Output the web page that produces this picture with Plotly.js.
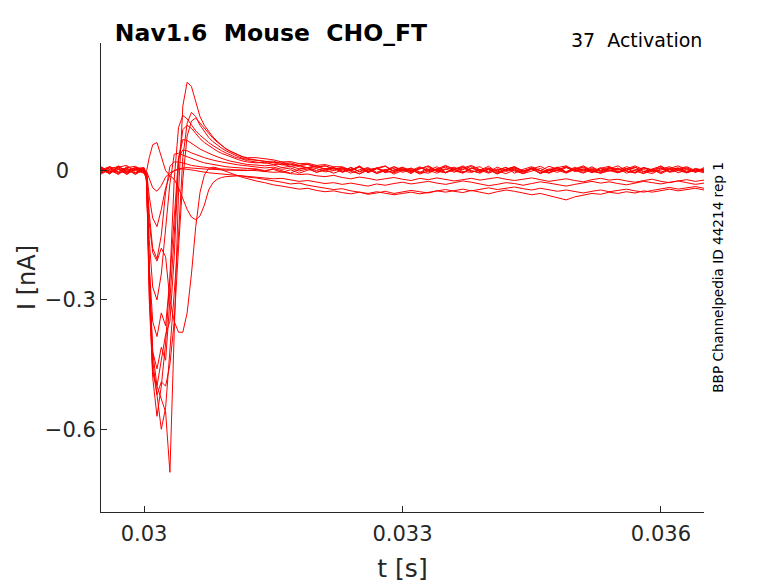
<!DOCTYPE html>
<html>
<head>
<meta charset="utf-8">
<script src="https://cdn.plot.ly/plotly-3.0.1.min.js"></script>
<style>
  html, body { margin: 0; padding: 0; background: #fff; }
  #plot { width: 778px; height: 583px; }
</style>
</head>
<body>
<div id="plot"></div>
<script>
// sample times [s]
var t = [0.0295, 0.0296, 0.0297, 0.0298, 0.0299, 0.03,
  0.03003, 0.03006, 0.0301, 0.03015, 0.0302, 0.03025, 0.0303, 0.03035, 0.0304, 0.03045,
  0.0305, 0.03055, 0.0306, 0.03065, 0.0307, 0.03075, 0.0308, 0.03085, 0.0309, 0.03095,
  0.031, 0.03105, 0.0311, 0.03115, 0.0312,
  0.0313, 0.0314, 0.0315, 0.0316, 0.0317, 0.0318, 0.0319, 0.032, 0.0321, 0.0322,
  0.0323, 0.0324, 0.0325, 0.0326, 0.0327, 0.0328, 0.0329, 0.033, 0.0331, 0.0332,
  0.0333, 0.0334, 0.0335, 0.0336, 0.0337, 0.0338, 0.0339, 0.034, 0.0341, 0.0342,
  0.0343, 0.0344, 0.0345, 0.0346, 0.0347, 0.0348, 0.0349, 0.035, 0.0351, 0.0352,
  0.0353, 0.0354, 0.0355, 0.0356, 0.0357, 0.0358, 0.0359, 0.036, 0.0361, 0.0362,
  0.0363, 0.0364, 0.0365];

// currents [nA], one array per sweep
var sweep1 = [0.006, -0.008, 0.011, -0.004, 0.008, 0.002,
  -0.02, -0.22, -0.42, -0.50, -0.53, -0.56, -0.70, -0.40, -0.05, 0.15, 0.205, 0.195, 0.16, 0.125,
  0.105, 0.09, 0.078, 0.068, 0.058, 0.05, 0.045, 0.04, 0.036, 0.032, 0.03,
  0.03, 0.027, 0.025, 0.02, 0.021, 0.016, 0.017, 0.012, 0.014, 0.009,
  0.009, 0.001, 0.008, -0.004, 0.006, 0.011, -0.002, 0.005, 0.0, 0.009,
  -0.003, 0.004, 0.012, 0.002, -0.006, 0.006, 0.001, 0.01, -0.004, 0.003,
  0.009, -0.001, 0.006, -0.007, 0.002, 0.008, -0.003, 0.004, 0.011, 0.0,
  -0.005, 0.006, 0.001, 0.009, 0.003, -0.006, 0.004, 0.01, -0.002, 0.003,
  -0.004, 0.005, 0.001];

var sweep2 = [-0.005, 0.009, 0.003, -0.009, 0.005, 0.007,
  -0.03, -0.25, -0.44, -0.52, -0.60, -0.55, -0.42, -0.30, -0.15, 0.03, 0.11, 0.135, 0.125, 0.105,
  0.09, 0.077, 0.067, 0.059, 0.052, 0.046, 0.041, 0.036, 0.032, 0.028, 0.026,
  0.024, 0.022, 0.018, 0.02, 0.014, 0.012, 0.015, 0.008, 0.011, 0.004,
  0.006, 0.0, 0.009, -0.005, 0.004, 0.01, -0.002, 0.003, -0.007, 0.006,
  0.001, 0.009, -0.004, 0.002, 0.011, 0.0, -0.006, 0.005, -0.001, 0.008,
  -0.006, 0.003, 0.009, 0.0, -0.005, 0.007, 0.011, -0.002, 0.004, -0.004,
  0.005, 0.01, -0.003, 0.001, 0.008, -0.002, -0.007, 0.004, 0.009, 0.0,
  0.005, -0.004, 0.002];

var sweep3 = [0.003, -0.007, 0.008, 0.012, -0.005, 0.0,
  -0.02, -0.28, -0.48, -0.57, -0.50, -0.40, -0.25, -0.02, 0.10, 0.128, 0.12, 0.105, 0.092, 0.082,
  0.073, 0.065, 0.058, 0.051, 0.046, 0.041, 0.036, 0.032, 0.029, 0.026, 0.023,
  0.02, 0.017, 0.019, 0.013, 0.015, 0.009, 0.007, 0.012, 0.003, 0.008,
  -0.003, 0.008, -0.002, 0.006, -0.006, 0.002, 0.009, -0.001, 0.005, -0.005,
  0.007, -0.002, 0.011, 0.003, -0.004, 0.005, 0.009, -0.005, 0.002, 0.007,
  -0.001, -0.007, 0.004, 0.01, 0.0, 0.007, -0.004, 0.002, 0.009, -0.002,
  0.007, 0.0, -0.005, 0.004, 0.011, 0.002, -0.003, 0.007, -0.002, 0.005,
  0.009, 0.0, -0.005];

var sweep4 = [-0.008, 0.002, -0.003, 0.007, 0.01, -0.003,
  -0.02, -0.24, -0.46, -0.52, -0.49, -0.50, -0.45, -0.35, -0.18, -0.02, 0.08, 0.115, 0.122, 0.11,
  0.097, 0.085, 0.075, 0.066, 0.058, 0.051, 0.045, 0.04, 0.035, 0.031, 0.028,
  0.024, 0.021, 0.022, 0.016, 0.018, 0.012, 0.014, 0.008, 0.011, 0.004,
  0.007, 0.0, 0.011, -0.003, 0.005, -0.002, 0.009, 0.002, -0.005, 0.004,
  0.01, -0.001, 0.004, -0.004, 0.006, 0.012, 0.002, -0.003, 0.008, 0.0,
  0.004, -0.006, 0.007, -0.001, 0.01, 0.003, -0.004, 0.005, 0.0, 0.009,
  -0.003, 0.004, 0.011, 0.0, -0.006, 0.006, 0.002, -0.004, 0.005, 0.011,
  0.002, -0.003, 0.007];

var sweep5 = [0.009, -0.003, 0.005, -0.008, 0.003, 0.006,
  -0.02, -0.30, -0.47, -0.50, -0.44, -0.38, -0.35, -0.20, 0.02, 0.095, 0.105, 0.098, 0.086, 0.074,
  0.065, 0.058, 0.051, 0.045, 0.04, 0.036, 0.032, 0.028, 0.025, 0.022, 0.02,
  0.018, 0.019, 0.014, 0.015, 0.01, 0.012, 0.006, 0.009, 0.003, 0.006,
  -0.004, 0.003, 0.009, -0.002, 0.006, -0.005, 0.002, 0.008, -0.003, 0.004,
  0.011, 0.0, -0.005, 0.006, 0.002, 0.01, -0.002, 0.004, -0.006, 0.003,
  0.008, -0.001, 0.005, -0.006, 0.004, 0.0, 0.01, 0.002, -0.004, 0.006,
  0.0, 0.008, 0.002, 0.005, -0.005, 0.007, 0.0, 0.011, -0.002, 0.003,
  0.007, -0.003, 0.004];

var sweep6 = [-0.002, 0.008, -0.006, 0.003, -0.009, 0.004,
  -0.02, -0.26, -0.42, -0.46, -0.41, -0.44, -0.30, -0.15, 0.03, 0.072, 0.07, 0.063, 0.056, 0.05,
  0.045, 0.04, 0.036, 0.032, 0.028, 0.025, 0.022, 0.02, 0.018, 0.016, 0.014,
  0.013, 0.011, 0.013, 0.007, 0.01, 0.004, 0.007, 0.0, 0.005, 0.001,
  0.003, -0.006, 0.002, 0.007, -0.004, 0.003, -0.008, 0.0, 0.006, -0.003,
  -0.006, 0.003, 0.008, -0.001, -0.005, 0.006, -0.002, 0.002, -0.008, 0.003,
  0.009, -0.002, 0.005, -0.006, 0.001, -0.004, 0.007, 0.0, -0.006, 0.003,
  -0.001, 0.006, -0.005, 0.001, 0.008, -0.003, 0.003, -0.007, 0.002, 0.006,
  -0.003, 0.004, -0.001];

var sweep7 = [0.005, 0.0, -0.008, 0.009, 0.002, -0.005,
  -0.02, -0.22, -0.35, -0.385, -0.33, -0.36, -0.25, -0.10, 0.03, 0.048, 0.046, 0.041, 0.037, 0.033,
  0.03, 0.027, 0.024, 0.022, 0.02, 0.018, 0.016, 0.014, 0.013, 0.012, 0.011,
  0.009, 0.006, 0.008, 0.003, 0.006, -0.001, 0.004, -0.004, 0.002, -0.006,
  0.001, 0.006, -0.003, 0.003, -0.007, 0.0, 0.005, -0.004, 0.002, -0.008,
  -0.001, 0.004, -0.005, 0.002, 0.007, -0.003, 0.001, -0.006, 0.004, -0.002,
  0.003, -0.007, -0.001, 0.005, -0.004, 0.001, -0.006, 0.003, 0.007, -0.002,
  -0.006, 0.002, -0.003, 0.005, -0.001, -0.007, 0.002, 0.006, -0.004, 0.0,
  -0.005, 0.003, -0.002];

var sweep8 = [0.003, -0.006, 0.009, 0.0, -0.005, 0.006,
  -0.01, -0.12, -0.19, -0.21, -0.18, -0.2, -0.30, -0.35, -0.375, -0.375, -0.33, -0.24, -0.13, -0.05,
  -0.01, 0.005, 0.008, 0.006, 0.002, -0.002, -0.006, -0.01, -0.013, -0.016, -0.019,
  -0.024, -0.028, -0.033, -0.036, -0.04, -0.043, -0.041, -0.046, -0.049, -0.047,
  -0.051, -0.054, -0.05, -0.055, -0.052, -0.048, -0.053, -0.05, -0.046, -0.049,
  -0.052, -0.047, -0.044, -0.048, -0.051, -0.046, -0.05, -0.054, -0.049, -0.045,
  -0.048, -0.052, -0.056, -0.053, -0.058, -0.062, -0.068, -0.061, -0.057, -0.053,
  -0.055, -0.05, -0.053, -0.049, -0.052, -0.047, -0.05, -0.046, -0.043, -0.047,
  -0.044, -0.041, -0.045];

var sweep9 = [-0.006, 0.003, 0.01, -0.003, 0.006, -0.002,
  -0.01, -0.16, -0.27, -0.30, -0.24, -0.14, -0.03, 0.038, 0.04, 0.036, 0.032, 0.028, 0.025, 0.021,
  0.018, 0.016, 0.014, 0.012, 0.01, 0.009, 0.008, 0.007, 0.006, 0.005, 0.005,
  0.004, 0.0, 0.003, -0.004, 0.002, -0.006, 0.001, 0.005, -0.003, 0.0,
  0.006, -0.002, -0.007, 0.002, 0.006, -0.001, -0.005, 0.003, -0.002, 0.007,
  0.001, -0.006, 0.003, 0.008, -0.002, -0.004, 0.002, 0.006, -0.001, -0.007,
  0.001, -0.003, 0.005, 0.0, -0.006, 0.002, 0.008, -0.002, 0.003, -0.005,
  0.004, -0.001, 0.006, -0.006, 0.0, 0.007, -0.003, 0.001, 0.006, -0.005,
  0.002, -0.003, 0.004];

var sweep10 = [0.008, -0.005, 0.002, 0.006, -0.008, 0.003,
  -0.005, -0.1, -0.18, -0.205, -0.15, -0.05, 0.01, 0.02, 0.02, 0.018, 0.015, 0.012, 0.01, 0.009,
  0.008, 0.006, 0.005, 0.004, 0.004, 0.003, 0.003, 0.002, 0.002, 0.002, 0.001,
  0.0, -0.002, -0.004, -0.003, -0.007, -0.009, -0.008, -0.012, -0.014, -0.011,
  -0.016, -0.019, -0.015, -0.018, -0.022, -0.019, -0.016, -0.02, -0.023, -0.018,
  -0.021, -0.017, -0.02, -0.024, -0.021, -0.018, -0.022, -0.019, -0.016, -0.02,
  -0.023, -0.02, -0.017, -0.021, -0.025, -0.022, -0.019, -0.023, -0.026, -0.021,
  -0.018, -0.022, -0.02, -0.024, -0.027, -0.023, -0.02, -0.025, -0.028, -0.024,
  -0.021, -0.025, -0.022];

var sweep11 = [-0.003, 0.006, -0.009, 0.004, 0.0, -0.006,
  -0.005, -0.06, -0.11, -0.13, -0.09, -0.04, -0.01, 0.0, 0.003, 0.004, 0.003, 0.002, 0.0, -0.002,
  -0.004, -0.005, -0.006, -0.007, -0.008, -0.009, -0.01, -0.011, -0.012, -0.013, -0.014,
  -0.015, -0.017, -0.019, -0.018, -0.022, -0.025, -0.023, -0.027, -0.03, -0.028,
  -0.032, -0.029, -0.033, -0.036, -0.031, -0.034, -0.03, -0.027, -0.031, -0.028,
  -0.025, -0.029, -0.032, -0.028, -0.024, -0.027, -0.031, -0.035, -0.032, -0.028,
  -0.03, -0.034, -0.03, -0.026, -0.029, -0.033, -0.036, -0.032, -0.028, -0.025,
  -0.029, -0.026, -0.03, -0.033, -0.029, -0.025, -0.028, -0.031, -0.027, -0.024,
  -0.028, -0.032, -0.029];

var sweep12 = [0.004, -0.003, 0.007, -0.006, 0.003, 0.0,
  0.0, 0.03, 0.06, 0.065, 0.035, 0.0, -0.012, -0.02, -0.04, -0.065, -0.09, -0.108, -0.114, -0.105,
  -0.08, -0.045, -0.028, -0.02, -0.016, -0.014, -0.013, -0.012, -0.012, -0.013, -0.015,
  -0.017, -0.02, -0.024, -0.027, -0.031, -0.029, -0.034, -0.037, -0.041, -0.044,
  -0.042, -0.047, -0.05, -0.053, -0.049, -0.052, -0.056, -0.053, -0.05, -0.054,
  -0.051, -0.047, -0.05, -0.046, -0.043, -0.047, -0.044, -0.04, -0.044, -0.041,
  -0.038, -0.042, -0.045, -0.041, -0.044, -0.048, -0.045, -0.049, -0.052, -0.048,
  -0.045, -0.049, -0.046, -0.043, -0.047, -0.05, -0.046, -0.042, -0.039, -0.043,
  -0.04, -0.037, -0.041];

var sweep13 = [0.002, 0.009, -0.004, -0.003, 0.007, -0.006,
  -0.002, -0.02, -0.04, -0.048, -0.035, -0.015, -0.005, 0.0, 0.004, 0.006, 0.007, 0.006, 0.005, 0.004,
  0.004, 0.003, 0.003, 0.002, 0.002, 0.001, 0.001, 0.001, 0.0, 0.0, 0.0,
  0.003, -0.002, 0.005, -0.001, -0.006, 0.003, 0.007, -0.004, 0.001, 0.006,
  -0.003, 0.002, -0.008, 0.001, 0.005, -0.004, 0.0, 0.007, 0.001, -0.006,
  0.003, -0.001, -0.005, 0.004, 0.009, -0.001, -0.004, 0.003, -0.007, 0.001,
  0.006, -0.002, 0.003, -0.006, 0.0, 0.005, -0.003, 0.008, -0.001, 0.002,
  -0.006, 0.0, 0.005, -0.002, -0.005, 0.007, 0.001, -0.004, 0.003, 0.006,
  -0.005, 0.001, -0.002];

var sweeps = [sweep1, sweep2, sweep3, sweep4, sweep5, sweep6, sweep7,
  sweep8, sweep9, sweep10, sweep11, sweep12, sweep13];

var xTicks = [0.03, 0.033, 0.036];
var xTickText = ['0.03', '0.033', '0.036'];
var yTicks = [-0.6, -0.3, 0];
var yTickText = ['\u22120.6', '\u22120.3', '0\u00a0\u00a0\u00a0\u00a0'];

var font = 'DejaVu Sans, sans-serif';
var axisColor = 'rgb(38,38,38)';

var data = [];
for (let i = 0; i < sweeps.length; i++) {
  data.push({
    type: 'scatter',
    x: t,
    y: sweeps[i],
    mode: 'lines',
    line: { color: 'rgb(255,0,0)', width: 1 },
    hoverinfo: 'skip'
  });
}

var layout = {
  width: 778,
  height: 583,
  margin: { l: 101, r: 74, t: 43, b: 71 },
  paper_bgcolor: '#fff',
  plot_bgcolor: '#fff',
  showlegend: false,
  title: {
    text: '<b>Nav1.6\u00a0\u00a0Mouse\u00a0\u00a0CHO_FT</b>',
    font: { family: font, size: 23.5, color: '#000' },
    xref: 'paper', x: 0.023, xanchor: 'left',
    yref: 'container', y: 0.943, yanchor: 'middle'
  },
  xaxis: {
    range: [0.0295, 0.0365],
    tickvals: xTicks,
    ticktext: xTickText,
    ticks: 'inside',
    ticklen: 6,
    tickwidth: 1,
    tickcolor: axisColor,
    showline: true,
    linecolor: axisColor,
    linewidth: 1,
    showgrid: false,
    zeroline: false,
    ticklabelstandoff: 3,
    tickfont: { family: font, size: 21, color: axisColor },
    title: { text: 't [s]', font: { family: font, size: 25, color: axisColor }, standoff: 14 }
  },
  yaxis: {
    range: [-0.792, 0.296],
    tickvals: yTicks,
    ticktext: yTickText,
    ticks: 'inside',
    ticklen: 6,
    tickwidth: 1,
    tickcolor: axisColor,
    showline: true,
    linecolor: axisColor,
    linewidth: 1,
    showgrid: false,
    zeroline: false,
    tickfont: { family: font, size: 21, color: axisColor },
    title: { text: 'I [nA]', font: { family: font, size: 24, color: axisColor }, standoff: 2 }
  },
  annotations: [
    {
      text: '37\u00a0\u00a0Activation',
      xref: 'paper', yref: 'paper', x: 1, y: 1.006,
      xanchor: 'right', yanchor: 'middle', showarrow: false,
      font: { family: font, size: 19, color: '#000' }
    },
    {
      text: 'BBP Channelpedia ID 44214 rep 1',
      xref: 'paper', yref: 'paper', x: 1.022, y: 0.5,
      xanchor: 'center', yanchor: 'middle', textangle: -90, showarrow: false,
      font: { family: font, size: 13.6, color: '#000' }
    }
  ]
};

Plotly.newPlot('plot', data, layout, { staticPlot: true, displayModeBar: false });
</script>
</body>
</html>
